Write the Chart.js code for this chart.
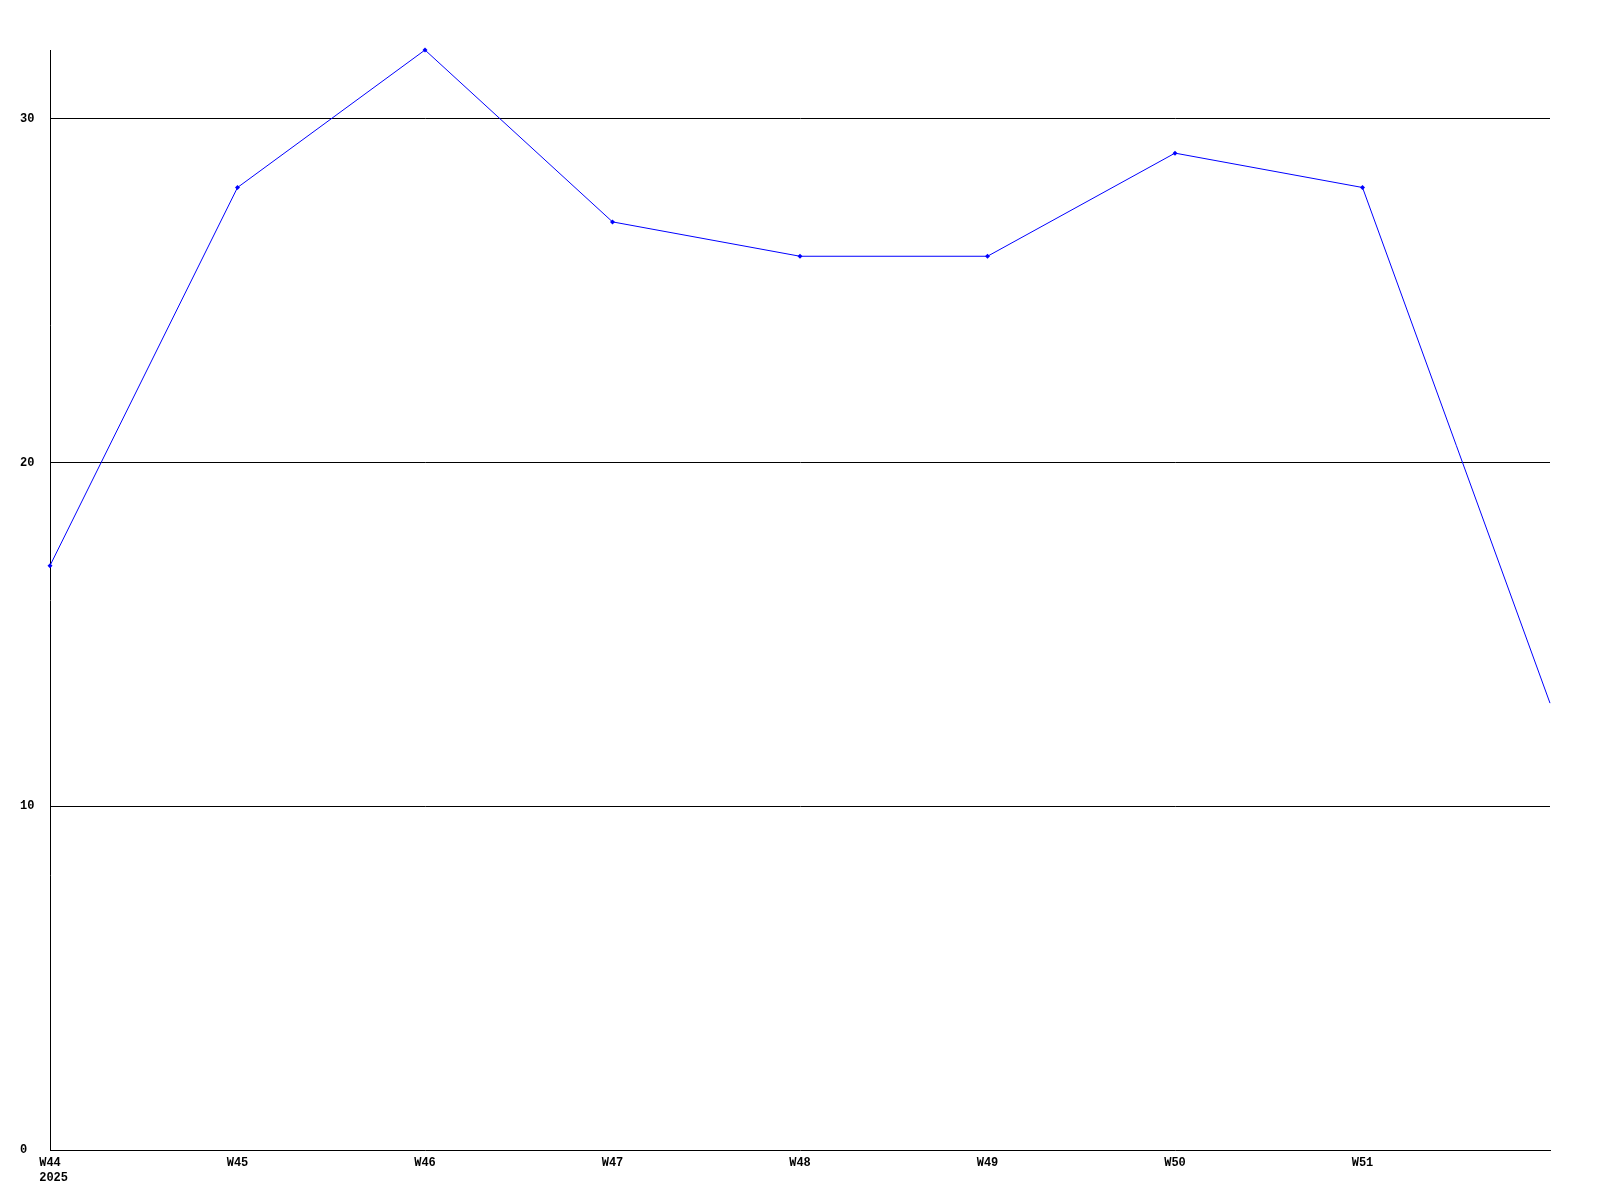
<!DOCTYPE html>
<html>
<head>
<meta charset="utf-8">
<script src="https://cdn.jsdelivr.net/npm/chart.js@4/dist/chart.umd.min.js"></script>
<style>
  html, body { margin: 0; padding: 0; background: #fff; }
  #wrap { width: 1600px; height: 1200px; position: relative; }
</style>
</head>
<body>
<div id="wrap"><canvas id="c" width="1600" height="1200"></canvas></div>
<script>
const weekLabels = ['W44', 'W45', 'W46', 'W47', 'W48', 'W49', 'W50', 'W51', ''];
const yearLabels = ['2025', '', '', '', '', '', '', '', ''];
const values = [17, 28, 32, 27, 26, 26, 29, 28, 13];
const yTicks = [0, 10, 20, 30];
const yMin = 0;
const yMax = 32;

// second line left-aligned with the first (monospace: leading space shifts it half a char)
const labels = weekLabels.map((w, i) => yearLabels[i] ? [w, ' ' + yearLabels[i]] : w);
const tickFont = { family: '"Liberation Mono", "DejaVu Sans Mono", monospace', size: 12, weight: 'bold', lineHeight: 1.25 };

new Chart(document.getElementById('c'), {
  type: 'line',
  data: {
    labels: labels,
    datasets: [{
      data: values,
      borderColor: '#0000ff',
      backgroundColor: '#0000ff',
      borderWidth: 1,
      pointStyle: 'rectRot',
      pointRadius: values.map((v, i) => i === values.length - 1 ? 0 : 2.5),
      pointBorderWidth: 0,
      tension: 0,
      fill: false,
      clip: false
    }]
  },
  options: {
    responsive: false,
    animation: false,
    devicePixelRatio: 1,
    layout: { padding: { top: 50, right: 50, left: 20, bottom: 0 } },
    plugins: { legend: { display: false }, tooltip: { enabled: false } },
    scales: {
      x: {
        type: 'category',
        offset: false,
        grid: { display: false, drawTicks: false },
        border: { display: true, color: '#000', width: 1 },
        ticks: { color: '#000', font: tickFont, padding: 5, maxRotation: 0, autoSkip: false },
        afterFit: (s) => { s.height = 50; }
      },
      y: {
        min: yMin,
        max: yMax,
        afterBuildTicks: (s) => { s.ticks = yTicks.map(v => ({ value: v })); },
        grid: {
          drawTicks: false,
          color: (ctx) => (ctx.tick && ctx.tick.value === 0) ? 'rgba(0,0,0,0)' : '#000',
          lineWidth: 1
        },
        border: { display: true, color: '#000', width: 1 },
        ticks: { color: '#000', font: tickFont, padding: 0, crossAlign: 'far' },
        afterFit: (s) => { s.width = 30; }
      }
    }
  }
});
</script>
</body>
</html>
